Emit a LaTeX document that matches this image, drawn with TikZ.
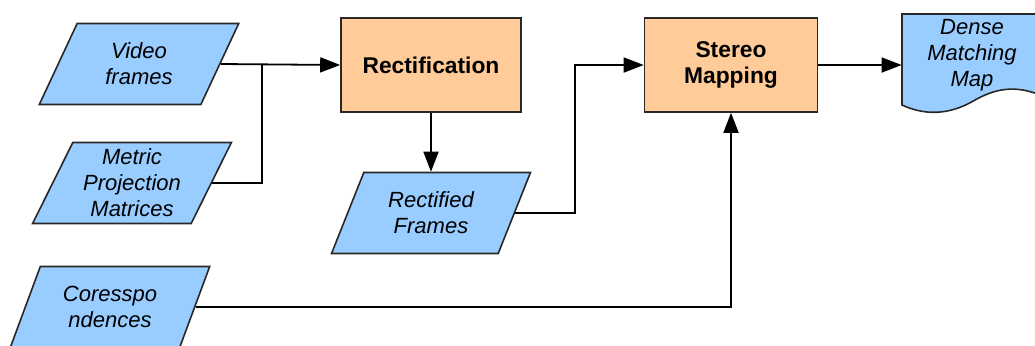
\documentclass[tikz,border=0pt]{standalone}
\usepackage{fontspec}
\setmainfont{Liberation Sans}
\usetikzlibrary{shapes.geometric,arrows.meta}

\definecolor{datablue}{RGB}{153,204,255}
\definecolor{procorange}{RGB}{255,204,153}
\definecolor{edgegray}{RGB}{40,40,40}

\tikzstyle{data} = [trapezium, trapezium left angle=64, trapezium right angle=116, trapezium stretches=true, minimum width=100pt, minimum height=40.5pt, inner sep=0pt, align=center, font=\fontsize{11}{13}\selectfont\itshape, draw=edgegray, line width=0.8pt, fill=datablue]
\tikzstyle{process} = [rectangle, minimum width=90pt, minimum height=47pt, align=center, font=\fontsize{11.4}{13}\selectfont\bfseries, draw=edgegray, line width=0.8pt, fill=procorange]
\tikzstyle{arrow} = [line width=0.9pt,-{Triangle[length=10pt,width=7.5pt]}]
\tikzstyle{line} = [line width=0.9pt]

\begin{document}
\begin{tikzpicture}[x=0.5pt,y=-0.5pt,node distance=74pt]
        \useasboundingbox (0,0) rectangle (1035,345);

        % document shape of the output map
        \fill [datablue] (902,14) -- (1045,14) -- (1045,97) .. controls (1020,86) and (1000,86) .. (975,100) .. controls (955,112) and (930,118) .. (902,105) -- cycle;
        \draw [edgegray, line width=0.8pt] (1045,14) -- (902,14) -- (902,105) .. controls (930,118) and (955,112) .. (975,100) .. controls (1000,86) and (1020,86) .. (1045,97);

        \node (video) [data] at (139,64) {Video\\frames};
        \node (metric) [data] at (132,183) {Metric\\Projection\\Matrices};
        \node (corr) [data] at (110,307) {Coresspo\\ndences};
        \node (rect) [process] at (431,65) {Rectification};
        \node (rectified) [data, below of=rect] {Rectified\\Frames};
        \node (stereo) [process, minimum width=86.5pt] at (731,65) {Stereo\\Mapping};
        \node (dense) [minimum width=70pt, inner sep=0pt, align=center, font=\fontsize{11}{13}\selectfont\itshape] at (972,55) {Dense\\Matching\\Map};
        \coordinate (join) at (262,64);

        \draw [line] (metric.east) -| (join);
        \draw [arrow] (video.east) -- (rect.west);
        \draw [arrow] (rect) -- (rectified);
        \draw [arrow] (rectified.east) -- ++(60,0) |- (stereo.west);
        \draw [arrow] (corr.east) -| (stereo.south);
        \draw [arrow] (stereo.east) -- (stereo.east -| dense.west);
    \end{tikzpicture}
\end{document}
